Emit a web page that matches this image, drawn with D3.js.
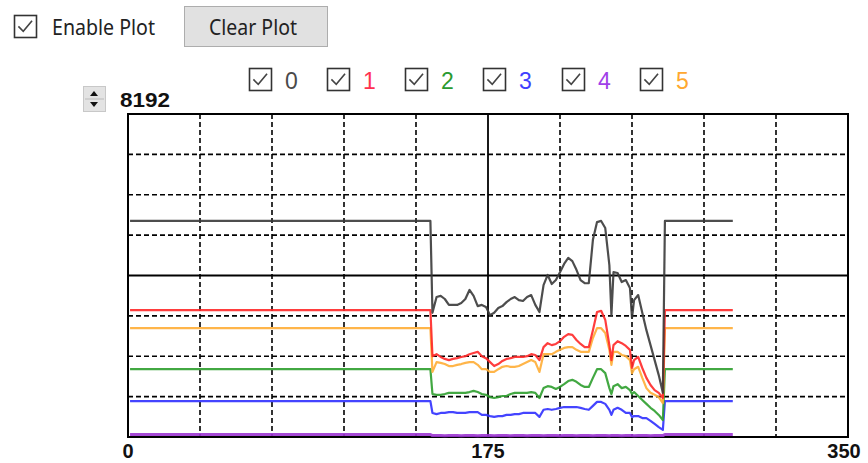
<!DOCTYPE html>
<html><head><meta charset="utf-8">
<script src="https://cdn.jsdelivr.net/npm/d3@7"></script>
<style>body{margin:0;background:#fff}svg{display:block}</style>
</head><body><svg id="c" width="868" height="463"></svg>
<script>
// ---- data ----
const xs = [1,147,148,150,152,154,156,158,160,162,164,166,168,170,172,174,176,178,180,182,184,186,188,190,192,194,196,198,200,202,204,206,208,210,212,214,216,218,220,222,224,226,228,230,232,234,235,236,238,240,242,244,245,246,248,250,252,254,256,258,260,261,294];
const ch0 = [5480,5480,
  3150,3550,3580,3500,3350,3350,3350,3400,3500,3730,
  3580,3320,3350,3300,3090,3150,3270,3320,3420,3500,
  3550,3470,3450,3550,3600,3350,3170,3850,4110,3880,
  3980,4180,4390,4540,4460,4240,3980,3900,3900,5000,
  5450,5480,5300,4360, 3090, 4180,4160,3930,3980,3780, 3020,
  3470,3600,3150,2710,2330,1950,1570,1120, 5480,5480];
const ch1 = [3220,3220,
  2050,2100,2030,1980,1950,1980,2000,2030,2050,2100,
  2130,2160,2050,2000,1900,1800,1850,1930,1980,2000,
  2030,2030,2030,2050,2100,2080,1950,2280,2380,2330,
  2360,2430,2540,2610,2590,2460,2360,2280,2280,2710,
  3170,3200,2970,2330, 1950, 2330,2430,2380,2310,2210, 1750,
  1950,2030,1750,1500,1320,1190,1120,990, 3220,3220];
const ch2 = [1720,1720,
  1090,1070,1070,1090,1120,1120,1120,1120,1120,1140,
  1170,1140,1090,1070,1010,990,1010,1040,1040,1090,
  1120,1120,1120,1120,1140,1120,990,1240,1290,1270,
  1220,1270,1340,1420,1450,1400,1320,1270,1270,1500,
  1720,1720,1620,1240, 1090, 1290,1340,1240,1270,1190, 1090,
  1140,1040,940,840,740,660,560,430, 1720,1720];
const ch3 = [910,910,
  610,580,610,610,630,630,610,610,610,630,
  630,630,560,560,530,510,530,530,560,560,
  580,580,610,610,610,610,510,690,710,690,
  710,740,760,760,760,760,740,710,690,790,
  890,890,840,690, 560, 690,740,690,610,610, 510,
  530,530,480,480,410,330,250,180, 910,910];
const ch4 = [65,65,
  35,37,35,33,35,37,35,33,35,37,
  35,33,35,37,35,33,35,37,35,33,
  35,37,35,33,35,37,35,33,35,37,
  35,33,35,37,35,33,35,37,35,33,
  35,37,35,33, 35, 37,35,33,35,37, 35,
  33,35,37,35,33,35,37,35, 65,65];
const ch5 = [2760,2760,
  1650,1900,1880,1850,1800,1800,1830,1850,1880,1900,
  1900,1830,1720,1720,1650,1650,1720,1780,1800,1780,
  1780,1800,1850,1900,1950,1900,1650,2100,2100,2100,
  2160,2210,2260,2280,2280,2210,2160,2160,2160,2510,
  2760,2760,2640,2210, 1830, 2160,2160,2080,2050,1950, 1620,
  1720,1780,1500,1240,1120,1070,1010,860, 2760,2760];
const seriesNames = ["0","1","2","3","4","5"];
const seriesColors = ["#3a3a3a","#ff2828","#2e9e2e","#3030ff","#9b35d0","#ffad35"];
const labelColors = ["#4a4a4a","#ff3050","#2a9a30","#4040ff","#a040e8","#ffa830"];
const xTicks = [0,175,350];
const xDomain = [0,350];
const yDomain = [0,8192];
const yMaxLabel = "8192";

// ---- drawing ----
const svg = d3.select("#c");
svg.append("rect").attr("width",868).attr("height",463).attr("fill","#fff");
const L=128, R=848, T=114, B=437;
const x = d3.scaleLinear().domain(xDomain).range([L,R]);
const y = d3.scaleLinear().domain(yDomain).range([B,T]);

function checkbox(g, cx, cy, s){
  g.append("rect").attr("x",cx+0.5).attr("y",cy+0.5).attr("width",s).attr("height",s)
    .attr("fill","#fff").attr("stroke","#333").attr("stroke-width",1.6);
  g.append("path").attr("d",`M${cx+s*0.2},${cy+s*0.52} L${cx+s*0.42},${cy+s*0.74} L${cx+s*0.82},${cy+s*0.26}`)
    .attr("fill","none").attr("stroke","#444").attr("stroke-width",1.6);
}
// top controls
checkbox(svg, 14, 15, 22);
svg.append("text").attr("x",52).attr("y",35).text("Enable Plot")
  .attr("font-family","Noto Sans, Arial, sans-serif").attr("font-size",22).attr("fill","#222")
  .attr("textLength",103).attr("lengthAdjust","spacingAndGlyphs");
svg.append("rect").attr("x",184.5).attr("y",6.5).attr("width",143).attr("height",40)
  .attr("fill","#e1e1e1").attr("stroke","#adadad");
svg.append("text").attr("x",209).attr("y",35).text("Clear Plot")
  .attr("font-family","Noto Sans, Arial, sans-serif").attr("font-size",22).attr("fill","#222")
  .attr("textLength",88).attr("lengthAdjust","spacingAndGlyphs");

// spinner + max label
svg.append("rect").attr("x",83.5).attr("y",86.5).attr("width",22).attr("height",25)
  .attr("fill","#e3e3e3").attr("stroke","#c8c8c8");
svg.append("line").attr("x1",85).attr("x2",104).attr("y1",99).attr("y2",99).attr("stroke","#bbb");
svg.append("path").attr("d","M90,96 L98,96 L94,91 Z").attr("fill","#111");
svg.append("path").attr("d","M90,102 L98,102 L94,107 Z").attr("fill","#111");
svg.append("text").attr("x",120).attr("y",107).text(yMaxLabel)
  .attr("font-family","Liberation Sans, Arial, sans-serif").attr("font-weight","bold")
  .attr("font-size",20).attr("fill","#111").attr("textLength",50).attr("lengthAdjust","spacingAndGlyphs");

// legend
const legX = [249,327,405,483,562,640];
seriesNames.forEach((n,i)=>{
  const g = svg.append("g");
  checkbox(g, legX[i], 68, 22);
  g.append("text").attr("x",legX[i]+36).attr("y",89).text(n)
    .attr("font-family","Liberation Sans, Arial, sans-serif").attr("font-size",23)
    .attr("fill",labelColors[i]);
});

// grid
const grid = svg.append("g");
const vTicks = d3.range(1,10).map(i=>xDomain[0]+i*(xDomain[1]-xDomain[0])/10);
vTicks.forEach(v=>{
  const mid = Math.abs(v-175)<1e-6;
  grid.append("line").attr("x1",x(v)).attr("x2",x(v)).attr("y1",T).attr("y2",B)
    .attr("stroke","#000").attr("stroke-width",mid?1.8:1.6)
    .attr("stroke-dasharray",mid?null:"5,3");
});
const hTicks = d3.range(1,8).map(i=>i*yDomain[1]/8);
hTicks.forEach(v=>{
  const mid = v===4096;
  grid.append("line").attr("x1",L).attr("x2",R).attr("y1",y(v)).attr("y2",y(v))
    .attr("stroke","#000").attr("stroke-width",mid?1.8:1.6)
    .attr("stroke-dasharray",mid?null:"5,3");
});

// frame
svg.append("rect").attr("x",L).attr("y",T).attr("width",R-L).attr("height",B-T)
  .attr("fill","none").attr("stroke","#000").attr("stroke-width",2);

// series
const series = [ch0,ch1,ch2,ch3,ch4,ch5];
const line = d3.line().x(d=>x(d[0])).y(d=>y(d[1]));
const order = [4,3,2,5,1,0];
order.forEach(i=>{
  svg.append("path").datum(xs.map((xv,k)=>[xv,series[i][k]]))
    .attr("d",line).attr("fill","none").attr("stroke",seriesColors[i])
    .attr("stroke-width", i===4?3:2.2).attr("stroke-linejoin","round").attr("opacity",0.9);
});

// x labels
xTicks.forEach((t,i)=>{
  svg.append("text").attr("x", i===2 ? x(t)-4 : x(t)).attr("y",458).text(t)
    .attr("text-anchor","middle")
    .attr("font-family","Liberation Sans, Arial, sans-serif").attr("font-weight","bold")
    .attr("font-size",20).attr("fill","#111");
});
</script></body></html>
